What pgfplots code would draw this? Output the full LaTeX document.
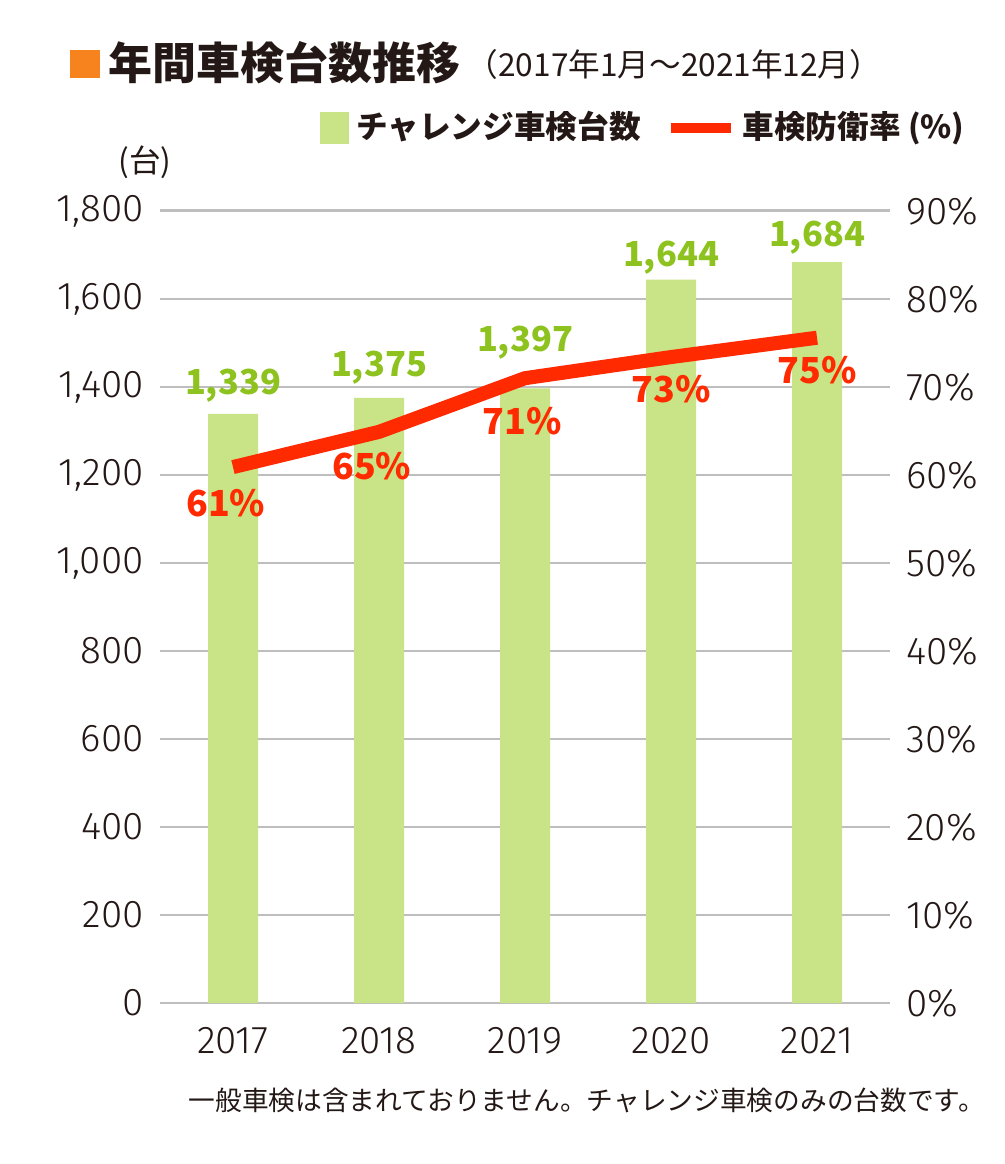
\documentclass[border=0pt]{standalone}
\usepackage{pgfplots}
\pgfplotsset{compat=1.18}
\usepackage{fontspec}
\setmainfont{Noto Sans CJK JP}
\newfontfamily\lightfont{Fira Sans}[UprightFont=* Light]
\definecolor{bargreen}{HTML}{C8E486}
\definecolor{labgreen}{HTML}{8DC21F}
\definecolor{linered}{HTML}{FF2A00}
\definecolor{titleorange}{HTML}{F7831E}
\definecolor{txt}{HTML}{231815}
\definecolor{gridgray}{HTML}{BEBEBE}
\begin{document}
\begin{tikzpicture}
\path (-1.6,-1.61) rectangle (8.44,10.03);
\pgfplotsset{
  base/.style={at={(0,0)}, anchor=south west, scale only axis, width=7.3cm, height=7.92cm,
    xmin=-0.5, xmax=4.5, clip=false,
    /pgf/number format/assume math mode=true, /pgf/number format/1000 sep={,},
    tick style={draw=none}, axis line style={draw=none},
    tick label style={text=txt, font=\lightfont\fontsize{11}{12}\selectfont}},
}
\begin{axis}[base, ymin=0, ymax=1800, ytick={0,200,...,1800},
  xtick={0,1,2,3,4}, xticklabels={2017,2018,2019,2020,2021},
  ymajorgrids, grid style={gridgray, line width=0.85pt},
  yticklabel style={xshift=-0.4mm}, xticklabel style={yshift=-1.2mm}]
\addplot[ybar, bar width=0.5cm, fill=bargreen, draw=none]
  coordinates {(0,1339) (1,1375) (2,1397) (3,1644) (4,1684)};
\addplot[draw=none, mark=none, nodes near coords, point meta=explicit,
  every node near coord/.append style={anchor=center, text=labgreen, inner sep=0pt,
    font=\bfseries\fontsize{9.8}{12}\selectfont}]
  table[meta=v] {
x y v
0 1404 1339
1 1445 1375
2 1500 1397
3 1693 1644
4 1739 1684
};
\end{axis}
\begin{axis}[base, ymin=0, ymax=90, ytick={0,10,...,90},
  yticklabel={\pgfmathprintnumber{\tick}\%},
  axis y line*=right, axis x line=none, yticklabel style={xshift=0.4mm},
  legend style={draw=none, fill=none, at={(0.218,1.105)}, anchor=west, inner sep=0pt,
    legend columns=2, font=\bfseries\fontsize{9}{11}\selectfont, text=txt,
    /tikz/every even column/.append style={column sep=1.8mm}},
  legend cell align=left]
\addlegendimage{legend image code/.code={\fill[bargreen] (0cm,-0.15cm) rectangle (0.28cm,0.15cm);}}
\addplot[linered, line width=4pt, line join=round,
  legend image code/.code={\draw[linered, line width=1mm] (0cm,0cm) -- (0.6cm,0cm);}]
  coordinates {(0,60.9) (1,64.9) (2,71.0) (3,73.4) (4,75.6)};
\addplot[draw=none, mark=none, nodes near coords={\pgfmathprintnumber{\pgfplotspointmeta}\%},
  point meta=explicit,
  every node near coord/.append style={anchor=center, text=linered, inner sep=0pt,
    font=\bfseries\fontsize{10.2}{12}\selectfont}]
  table[meta=v] {
x y v
-0.05 56.8 61
0.95 61.0 65
1.98 66.1 71
3.0 69.8 73
4.0 71.9 75
};
\legend{チャレンジ車検台数, 車検防衛率 (\%)}
\end{axis}
\fill[titleorange] (-0.9,9.25) rectangle (-0.6,9.53);
\node[anchor=west, inner sep=0pt, font=\bfseries\fontsize{12.5}{14}\selectfont, text=txt] at (-0.52,9.40) {年間車検台数推移};
\node[anchor=west, inner sep=0pt, font=\fontsize{9}{10}\selectfont, text=txt] at (3.06,9.38) {（2017年1月～2021年12月）};
\node[anchor=center, inner sep=0pt, font=\fontsize{9}{10}\selectfont, text=txt] at (-0.15,8.41) {(台)};
\node[anchor=west, inner sep=0pt, font=\fontsize{7.6}{9}\selectfont, text=txt] at (0.28,-0.97) {一般車検は含まれておりません。チャレンジ車検のみの台数です。};
\end{tikzpicture}
\end{document}
